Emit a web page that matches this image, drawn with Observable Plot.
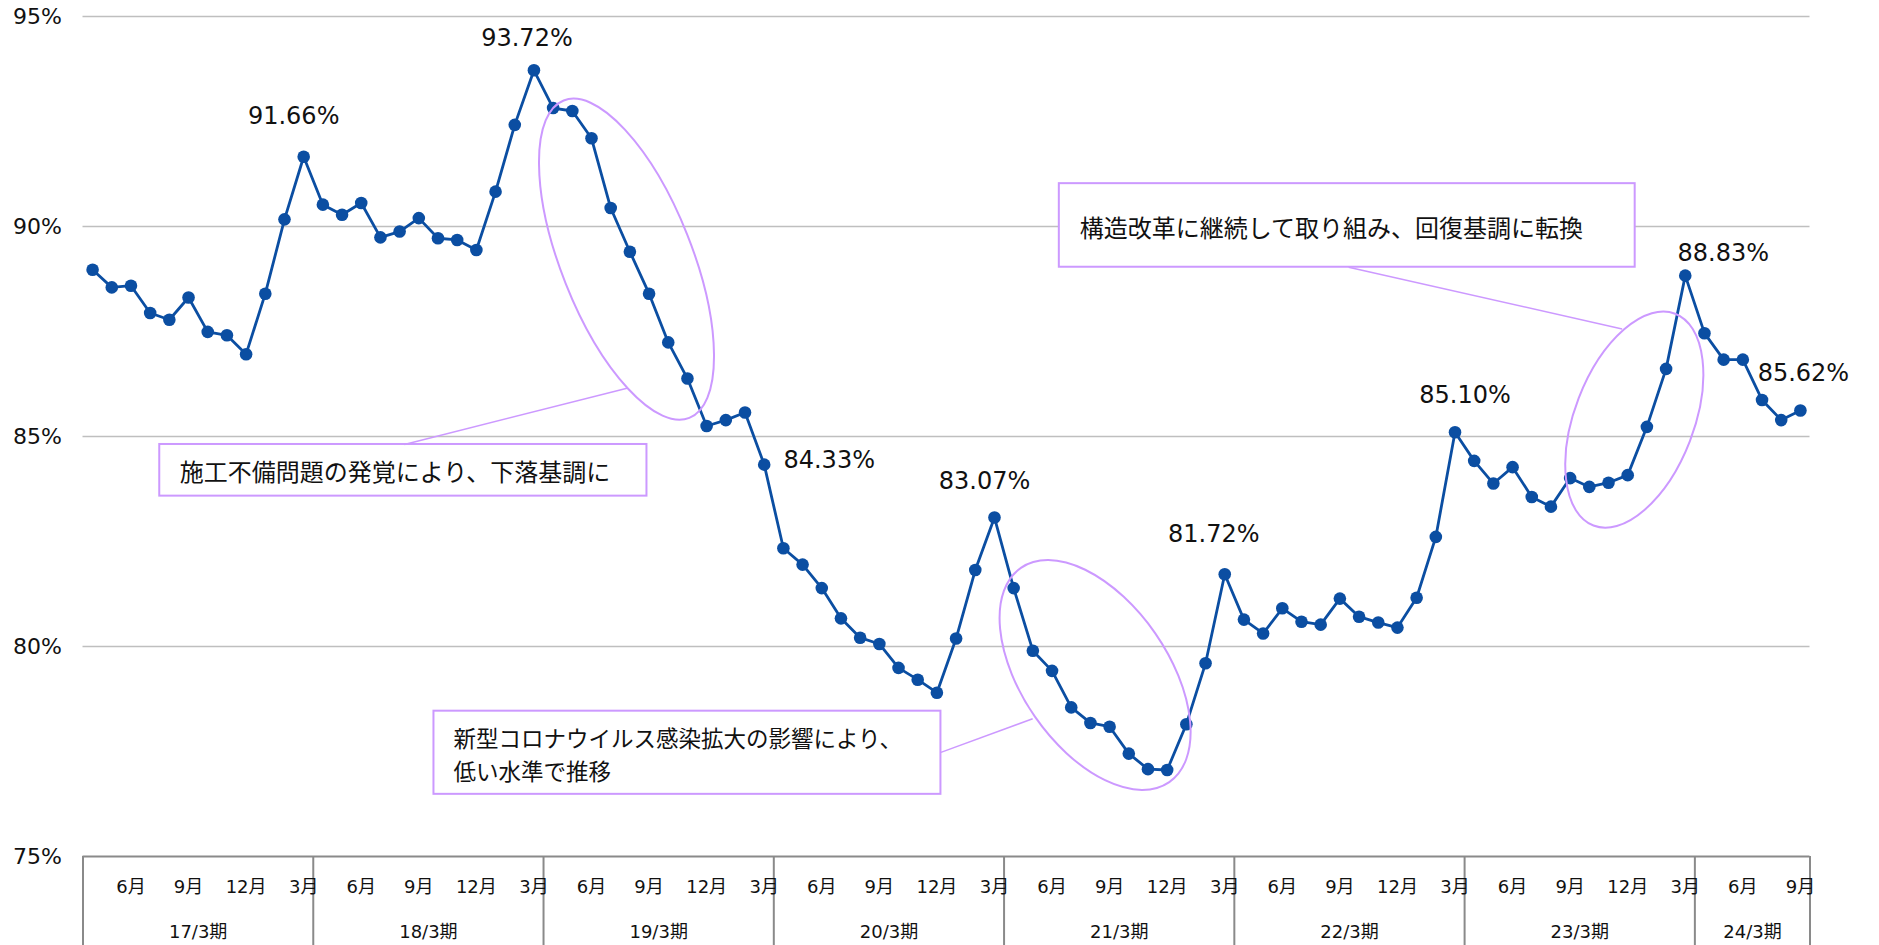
<!DOCTYPE html>
<html>
<head>
<meta charset="utf-8">
<script src="https://cdn.jsdelivr.net/npm/d3@7"></script>
<script src="https://cdn.jsdelivr.net/npm/@observablehq/plot@0.6"></script>
<style>
  html, body { margin: 0; padding: 0; background: #fff; }
  #chart svg { display: block; }
</style>
</head>
<body>
<div id="chart"></div>
<script>
// ---------------- data ----------------
const periods = ["17/3期", "18/3期", "19/3期", "20/3期", "21/3期", "22/3期", "23/3期", "24/3期"];
const monthsInPeriod = [12, 12, 12, 12, 12, 12, 12, 6];
const monthNames = ["4月", "5月", "6月", "7月", "8月", "9月", "10月", "11月", "12月", "1月", "2月", "3月"];
const shownMonths = ["6月", "9月", "12月", "3月"];
const yTicks = [75, 80, 85, 90, 95];
const gridValues = [80, 85, 90, 95];

// monthly rate (%), April 2016 .. September 2023
const rates = [
  88.97, 88.55, 88.59, 87.94, 87.78, 88.31, 87.49, 87.41, 86.96, 88.40, 90.17, 91.66,
  90.52, 90.28, 90.56, 89.74, 89.88, 90.20, 89.72, 89.68, 89.44, 90.83, 92.42, 93.72,
  92.82, 92.75, 92.10, 90.44, 89.40, 88.40, 87.24, 86.38, 85.25, 85.39, 85.57, 84.33,
  82.34, 81.95, 81.39, 80.67, 80.21, 80.06, 79.49, 79.21, 78.90, 80.19, 81.82, 83.07,
  81.39, 79.90, 79.42, 78.55, 78.18, 78.09, 77.45, 77.08, 77.06, 78.15, 79.60, 81.72,
  80.64, 80.31, 80.91, 80.59, 80.52, 81.14, 80.71, 80.57, 80.45, 81.16, 82.61, 85.10,
  84.42, 83.88, 84.27, 83.56, 83.33, 84.01, 83.80, 83.90, 84.08, 85.23, 86.61, 88.83,
  87.46, 86.83, 86.83, 85.87, 85.39, 85.62
];
const labelledPoints = [11, 23, 35, 47, 59, 71, 83, 89];

const noteTexts = [
  "施工不備問題の発覚により、下落基調に",
  "新型コロナウイルス感染拡大の影響により、\n低い水準で推移",
  "構造改革に継続して取り組み、回復基調に転換"
];

// ---------------- layout (not data) ----------------
const W = 1879, H = 945;
const M = {top: 16, right: 69.5, bottom: 89, left: 82.5};
const BLUE = "#0b4ea2";
const LAVENDER = "#cc99ff";
const AXIS_GRAY = "#8a8a8a";
const FONT = "'DejaVu Sans', 'Noto Sans CJK JP', sans-serif";

// label offsets (px) relative to each labelled point
const labelOffsets = [[-10, -40], [-7, -32], [65, -4], [-10, -36], [-11, -40], [10, -37], [38, -22], [3, -37]];

// annotation placement in data units (x = month index, y = %)
const boxPlacement = [
  {x1: 4.00, x2: 29.39, y1: 84.81, y2: 83.58, dx: 20, size: 24},
  {x1: 18.29, x2: 44.71, y1: 78.46, y2: 76.48, dx: 19.5, size: 22.5},
  {x1: 50.88, x2: 80.89, y1: 91.02, y2: 89.03, dx: 20.5, size: 24}
];
const connectorPlacement = [
  {x1: 16.75, y1: 84.81, x2: 28.35, y2: 86.15},
  {x1: 44.71, y1: 77.48, x2: 49.49, y2: 78.28},
  {x1: 65.96, y1: 89.03, x2: 80.21, y2: 87.56}
];
const ellipsePlacement = [
  {cx: 28.35, cy: 89.21, rx: 65.5, ry: 170.7, rot: -21.6},
  {cx: 52.77, cy: 79.31, rx: 73.2, ry: 130.3, rot: -34.7},
  {cx: 80.87, cy: 85.39, rx: 59.6, ry: 113.5, rot: 21.1}
];

// ---------------- derived tables ----------------
const points = rates.map((v, i) => ({x: i + 0.5, v}));
const totalMonths = d3.sum(monthsInPeriod);
const starts = monthsInPeriod.map((n, k) => d3.sum(monthsInPeriod.slice(0, k)));
const bounds = [...starts, totalMonths];

const monthTicks = [];
periods.forEach((p, k) => {
  for (let m = 0; m < monthsInPeriod[k]; m++) {
    if (shownMonths.includes(monthNames[m])) monthTicks.push({x: starts[k] + m + 0.5, y: 75, text: monthNames[m]});
  }
});
const periodTicks = periods.map((p, k) => ({x: starts[k] + monthsInPeriod[k] / 2, y: 75, text: p}));

const yBottom = 75 - M.bottom * (20 / (H - M.top - M.bottom));

const boxes = boxPlacement.map((b, k) => ({...b, text: noteTexts[k], ym: (b.y1 + b.y2) / 2}));

function ellipseMark(ells) {
  return (index, scales) => {
    const sx = scales.x, sy = scales.y;
    const g = d3.create("svg:g");
    for (const e of ells) {
      g.append("ellipse")
        .attr("transform", `translate(${sx(e.cx)},${sy(e.cy)}) rotate(${e.rot})`)
        .attr("rx", e.rx).attr("ry", e.ry)
        .attr("fill", "none").attr("stroke", LAVENDER).attr("stroke-width", 2);
    }
    return g.node();
  };
}

const labelMarks = labelledPoints.map((i, k) => Plot.text([points[i]], {
  x: "x", y: "v", text: d => d.v.toFixed(2) + "%",
  dx: labelOffsets[k][0], dy: labelOffsets[k][1],
  fontSize: 24, textAnchor: "middle", lineAnchor: "middle", fill: "#111"
}));

const boxTextMarks = boxes.map(b => Plot.text([b], {
  x: "x1", y: "ym", text: "text", dx: b.dx, fontSize: b.size,
  textAnchor: "start", lineAnchor: "middle", lineHeight: 1.45, fill: "#111"
}));

const chart = Plot.plot({
  width: W, height: H,
  marginTop: M.top, marginRight: M.right, marginBottom: M.bottom, marginLeft: M.left,
  style: {fontFamily: FONT, fontSize: "22px", color: "#111", background: "#fff", overflow: "visible"},
  x: {domain: [0, totalMonths], axis: null},
  y: {domain: [75, 95], ticks: yTicks, tickFormat: d => d + "%", tickSize: 0, tickPadding: 21, label: null},
  marks: [
    Plot.ruleY(gridValues, {stroke: "#bfbfbf", strokeWidth: 1.5}),
    Plot.ruleY([75], {stroke: AXIS_GRAY, strokeWidth: 2}),
    Plot.ruleX(bounds, {y1: 75, y2: yBottom, stroke: AXIS_GRAY, strokeWidth: 2}),
    Plot.text(monthTicks, {x: "x", y: "y", text: "text", dy: 31, fontSize: 18, textAnchor: "middle", lineAnchor: "middle", fill: "#111"}),
    Plot.text(periodTicks, {x: "x", y: "y", text: "text", dy: 76, fontSize: 18, textAnchor: "middle", lineAnchor: "middle", fill: "#111"}),
    Plot.rect(boxes, {x1: "x1", x2: "x2", y1: "y1", y2: "y2", fill: "white", stroke: LAVENDER, strokeWidth: 2}),
    ...boxTextMarks,
    Plot.link(connectorPlacement, {x1: "x1", y1: "y1", x2: "x2", y2: "y2", stroke: LAVENDER, strokeWidth: 1.5}),
    Plot.line(points, {x: "x", y: "v", stroke: BLUE, strokeWidth: 2.8}),
    Plot.dot(points, {x: "x", y: "v", r: 6.3, fill: BLUE, stroke: "none"}),
    ellipseMark(ellipsePlacement),
    ...labelMarks
  ]
});
document.getElementById("chart").appendChild(chart);
</script>
</body>
</html>
